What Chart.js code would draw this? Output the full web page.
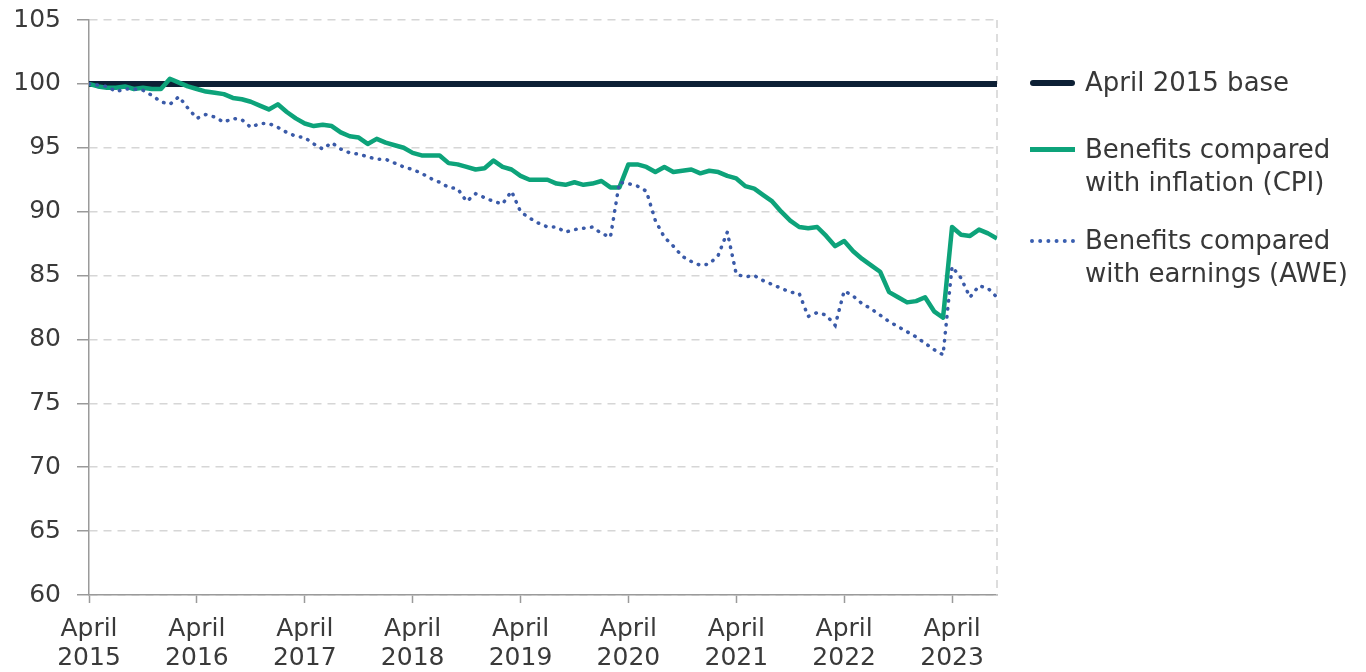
<!DOCTYPE html>
<html>
<head>
<meta charset="utf-8">
<script src="https://cdn.jsdelivr.net/npm/chart.js@4"></script>
<style>
  html, body { margin: 0; padding: 0; background: #fff; }
  #wrap { position: relative; width: 1366px; height: 672px; overflow: hidden; }
  #wrap canvas { position: absolute; left: 0; top: 0; }
  .legend-item { position: absolute; left: 1030px; font-family: "DejaVu Sans", sans-serif; font-size: 26px; line-height: 33px; color: #383838; }
  .legend-item .sw { position: absolute; left: 0; width: 45px; }
  .legend-item .tx { position: absolute; left: 55px; white-space: nowrap; }
</style>
</head>
<body>
<div id="wrap">
  <canvas id="chart" width="1366" height="672"></canvas>
  <div class="legend-item" style="top:66px">
    <span class="sw" style="top:14px;border-top:6px solid #0d2035;border-radius:3px"></span>
    <span class="tx">April 2015 base</span>
  </div>
  <div class="legend-item" style="top:133px">
    <span class="sw" style="top:14px;border-top:5px solid #0da37a"></span>
    <span class="tx">Benefits compared<br>with inflation (CPI)</span>
  </div>
  <div class="legend-item" style="top:224px">
    <span class="sw" style="top:15px;border-top:4px dotted #3a5fb0"></span>
    <span class="tx">Benefits compared<br>with earnings (AWE)</span>
  </div>
</div>
<script>
// monthly index, April 2015 = 100 (index 0 = Apr 2015, last = Sep 2023)
const tickLabels = [
    ['April', '2015'], ['April', '2016'], ['April', '2017'], ['April', '2018'], ['April', '2019'],
    ['April', '2020'], ['April', '2021'], ['April', '2022'], ['April', '2023']
];
const yTicks = [60, 65, 70, 75, 80, 85, 90, 95, 100, 105];
const baseValue = 100;

const cpiValues = [
    100.0, 99.8, 99.7, 99.7, 99.8, 99.6, 99.7, 99.6, 99.6, 100.4, 100.1, 99.8,
    99.6, 99.4, 99.3, 99.2, 98.9, 98.8, 98.6, 98.3, 98.0, 98.4, 97.8, 97.3,
    96.9, 96.7, 96.8, 96.7, 96.2, 95.9, 95.8, 95.3, 95.7, 95.4, 95.2, 95.0,
    94.6, 94.4, 94.4, 94.4, 93.8, 93.7, 93.5, 93.3, 93.4, 94.0, 93.5, 93.3,
    92.8, 92.5, 92.5, 92.5, 92.2, 92.1, 92.3, 92.1, 92.2, 92.4, 91.9, 91.9,
    93.7, 93.7, 93.5, 93.1, 93.5, 93.1, 93.2, 93.3, 93.0, 93.2, 93.1, 92.8,
    92.6, 92.0, 91.8, 91.3, 90.8, 90.0, 89.3, 88.8, 88.7, 88.8, 88.1, 87.3,
    87.7, 86.9, 86.3, 85.8, 85.3, 83.7, 83.3, 82.9, 83.0, 83.3, 82.2, 81.7,
    88.8, 88.2, 88.1, 88.6, 88.3, 87.9
];

const aweValues = [
    100.0, 99.9, 99.8, 99.4, 99.6, 99.6, 99.5, 99.1, 98.6, 98.4, 99.0, 98.1,
    97.3, 97.6, 97.4, 97.0, 97.3, 97.2, 96.6, 96.9, 96.9, 96.6, 96.2, 95.9,
    95.8, 95.3, 94.9, 95.4, 94.9, 94.6, 94.5, 94.3, 94.1, 94.1, 93.8, 93.5,
    93.3, 93.0, 92.6, 92.3, 91.9, 91.8, 90.8, 91.4, 91.1, 90.8, 90.6, 91.6,
    90.0, 89.5, 89.1, 88.8, 88.8, 88.4, 88.6, 88.7, 88.8, 88.3, 88.0, 92.3,
    92.2, 92.0, 91.6, 89.3, 88.0, 87.3, 86.5, 86.1, 85.8, 85.9, 86.6, 88.4,
    85.1, 84.9, 85.0, 84.6, 84.3, 84.0, 83.7, 83.6, 81.8, 82.1, 81.9, 81.1,
    83.8, 83.4, 82.8, 82.4, 81.9, 81.4, 81.0, 80.6, 80.2, 79.7, 79.2, 78.8,
    85.7, 84.8, 83.3, 84.2, 84.0, 83.3
];

const lastIndex = cpiValues.length - 1;
const toPoints = (arr) => arr.map((v, i) => ({ x: i, y: v }));

const rightEdge = {
    id: 'rightEdge',
    beforeDatasetsDraw(chart) {
        const { ctx, chartArea: a } = chart;
        ctx.save();
        ctx.strokeStyle = '#d2d2d2';
        ctx.lineWidth = 1.5;
        ctx.setLineDash([8, 6]);
        ctx.beginPath();
        ctx.moveTo(a.right, a.top);
        ctx.lineTo(a.right, a.bottom);
        ctx.stroke();
        ctx.restore();
    }
};

const font = { family: '"DejaVu Sans", sans-serif', size: 25 };

new Chart(document.getElementById('chart'), {
    type: 'line',
    data: {
        datasets: [
            {
                label: 'Benefits compared with earnings (AWE)',
                data: toPoints(aweValues),
                borderColor: '#3a5aa8',
                borderWidth: 3.5,
                borderDash: [0.5, 7.5],
                borderCapStyle: 'round',
                pointRadius: 0,
                order: 1
            },
            {
                label: 'Benefits compared with inflation (CPI)',
                data: toPoints(cpiValues),
                borderColor: '#0da37a',
                borderWidth: 4.5,
                borderJoinStyle: 'round',
                pointRadius: 0,
                order: 2
            },
            {
                label: 'April 2015 base',
                data: [{ x: 0, y: baseValue }, { x: lastIndex, y: baseValue }],
                borderColor: '#0d2035',
                borderWidth: 6,
                pointRadius: 0,
                order: 3
            }
        ]
    },
    options: {
        responsive: false,
        animation: false,
        layout: { padding: { top: 20, right: 369, bottom: 0, left: 0 } },
        plugins: {
            legend: { display: false },
            tooltip: { enabled: false }
        },
        scales: {
            x: {
                type: 'linear',
                min: 0,
                max: lastIndex,
                afterBuildTicks: (s) => { s.ticks = tickLabels.map((_, i) => ({ value: i * 12 })); },
                afterFit: (s) => { s.height = 77; },
                border: { color: '#9a9a9a', width: 1.5 },
                grid: { drawOnChartArea: false, drawTicks: true, tickLength: 8, tickColor: '#9a9a9a', tickWidth: 1.5 },
                ticks: {
                    padding: 12,
                    color: '#3a3a3a',
                    font: { ...font, lineHeight: 1.15 },
                    maxRotation: 0,
                    autoSkip: false,
                    callback: (v) => tickLabels[v / 12]
                }
            },
            y: {
                min: 60,
                max: 105,
                afterBuildTicks: (s) => { s.ticks = yTicks.map(v => ({ value: v })); },
                afterFit: (s) => { s.width = 89; s.paddingTop = 0; s.paddingBottom = 0; },
                border: { color: '#9a9a9a', width: 1.5, dash: [8, 6] },
                grid: { color: '#d6d6d6', lineWidth: 1.5, tickLength: 12, tickColor: '#9a9a9a', tickWidth: 1.5, tickBorderDash: [] },
                ticks: { padding: 16, color: '#3a3a3a', font: font }
            }
        }
    },
    plugins: [rightEdge]
});
</script>
</body>
</html>
